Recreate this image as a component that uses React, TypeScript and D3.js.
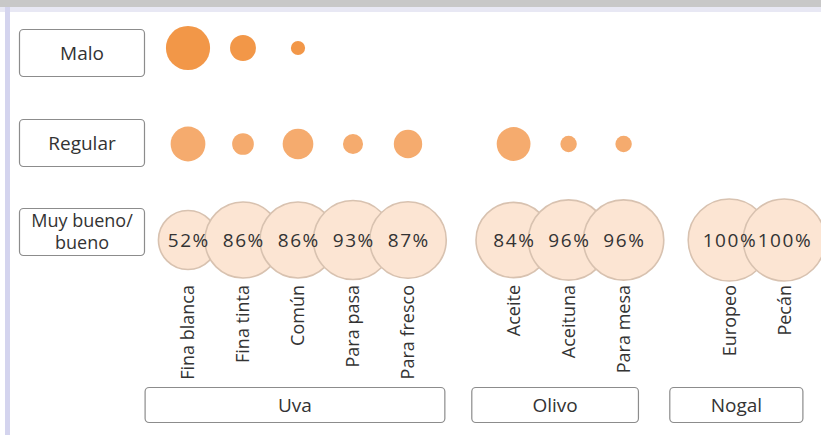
import React from "react";
import * as d3 from "d3";

// ---------- data ----------
const groups = ["Uva", "Olivo", "Nogal"];
const categories = [
  "Fina blanca", "Fina tinta", "Común", "Para pasa", "Para fresco",
  "Aceite", "Aceituna", "Para mesa", "Europeo", "Pecán",
];
const categoryGroup = ["Uva", "Uva", "Uva", "Uva", "Uva", "Olivo", "Olivo", "Olivo", "Nogal", "Nogal"];
const rowLabels = ["Malo", "Regular", "Muy bueno/\nbueno"];
const malo: (number | null)[] = [29, 10, 3, null, null, null, null, null, null, null];
const regular: (number | null)[] = [18, 7, 14, 6, 12, 17, 4, 4, null, null];
const muyBueno: number[] = [52, 86, 86, 93, 87, 84, 96, 96, 100, 100];

// ---------- layout ----------
const W = 821, H = 435;
const FONT = "'Open Sans', 'Noto Sans', sans-serif";
const TEXT = "#333333";
const BOX = "#8c8c8c";
const GROUP_GAP = 0.92; // extra slots between groups
const groupBoxPad: Record<string, [number, number]> = {
  Uva: [0.78, 0.67],
  Olivo: [0.76, 0.27],
  Nogal: [1.08, 0.34],
};
const rowBoxOffset = [5, -1, -8];

export default function App() {
  const groupIndex = (g: string) => groups.indexOf(g);
  const slot = (i: number) => i + groupIndex(categoryGroup[i]) * GROUP_GAP;
  const x = d3.scaleLinear().domain([0, 1]).range([188, 243]);
  const y = d3.scalePoint<string>().domain(rowLabels).range([48, 240]);
  const r = d3.scaleSqrt().domain([0, 100]).range([0, 41]);

  const rows = [
    { label: rowLabels[0], values: malo, fill: "#F29748" },
    { label: rowLabels[1], values: regular, fill: "#F5AB6E" },
  ];

  return (
    <svg
      width={W}
      height={H}
      style={{ position: "absolute", left: 0, top: 0, background: "#fff" }}
      fontFamily={FONT}
    >
      {/* frame */}
      <rect x={0} y={0} width={W} height={7} fill="#c8c8c8" />
      <rect x={0} y={7} width={W} height={5} fill="#e8e8f4" />
      <rect x={5} y={7} width={5} height={H - 7} fill="#d4d4ee" />

      {/* row label boxes */}
      {rowLabels.map((lab, k) => {
        const cy = (y(lab) as number) + rowBoxOffset[k];
        const lines = lab.split("\n");
        const fs = lines.length === 1 ? 19 : 18;
        return (
          <g key={lab}>
            <rect x={19.5} y={cy - 23.5} width={125} height={47} rx={4} fill="#fff" stroke={BOX} strokeWidth={1.2} />
            <text x={82} y={cy} textAnchor="middle" fontSize={fs} fill={TEXT}>
              {lines.map((t, j) => (
                <tspan key={j} x={82} dy={j === 0 ? (lines.length === 1 ? "0.35em" : "-0.28em") : "1.25em"}>
                  {t}
                </tspan>
              ))}
            </text>
          </g>
        );
      })}

      {/* Malo / Regular bubbles */}
      {rows.map((row) =>
        row.values.map((v, i) =>
          v == null ? null : (
            <circle key={row.label + i} cx={x(slot(i))} cy={y(row.label)} r={r(v)} fill={row.fill} />
          )
        )
      )}

      {/* Muy bueno bubbles */}
      {muyBueno.map((v, i) => (
        <circle
          key={"mb" + i}
          cx={x(slot(i))}
          cy={y(rowLabels[2])}
          r={r(v)}
          fill="#FCE5D3"
          stroke="#D8C2B0"
          strokeWidth={1.6}
        />
      ))}
      {muyBueno.map((v, i) => (
        <text
          key={"mbt" + i}
          x={x(slot(i)) + 0.8}
          y={(y(rowLabels[2]) as number) + 7}
          textAnchor="middle"
          fontSize={19}
          letterSpacing={1.6}
          fill={TEXT}
        >
          {v}%
        </text>
      ))}

      {/* category labels */}
      {categories.map((c, i) => (
        <text
          key={c}
          transform={`translate(${x(slot(i))},285) rotate(-90)`}
          textAnchor="end"
          dy="0.35em"
          fontSize={18}
          fill={TEXT}
        >
          {c}
        </text>
      ))}

      {/* group boxes */}
      {groups.map((g) => {
        const idx = categories.map((_, i) => i).filter((i) => categoryGroup[i] === g);
        const x0 = x(slot(idx[0]) - groupBoxPad[g][0]);
        const x1 = x(slot(idx[idx.length - 1]) + groupBoxPad[g][1]);
        return (
          <g key={g}>
            <rect x={x0} y={387.5} width={x1 - x0} height={35} rx={4} fill="#fff" stroke={BOX} strokeWidth={1.2} />
            <text x={(x0 + x1) / 2} y={405} dy="0.35em" textAnchor="middle" fontSize={19} fill={TEXT}>
              {g}
            </text>
          </g>
        );
      })}
    </svg>
  );
}
